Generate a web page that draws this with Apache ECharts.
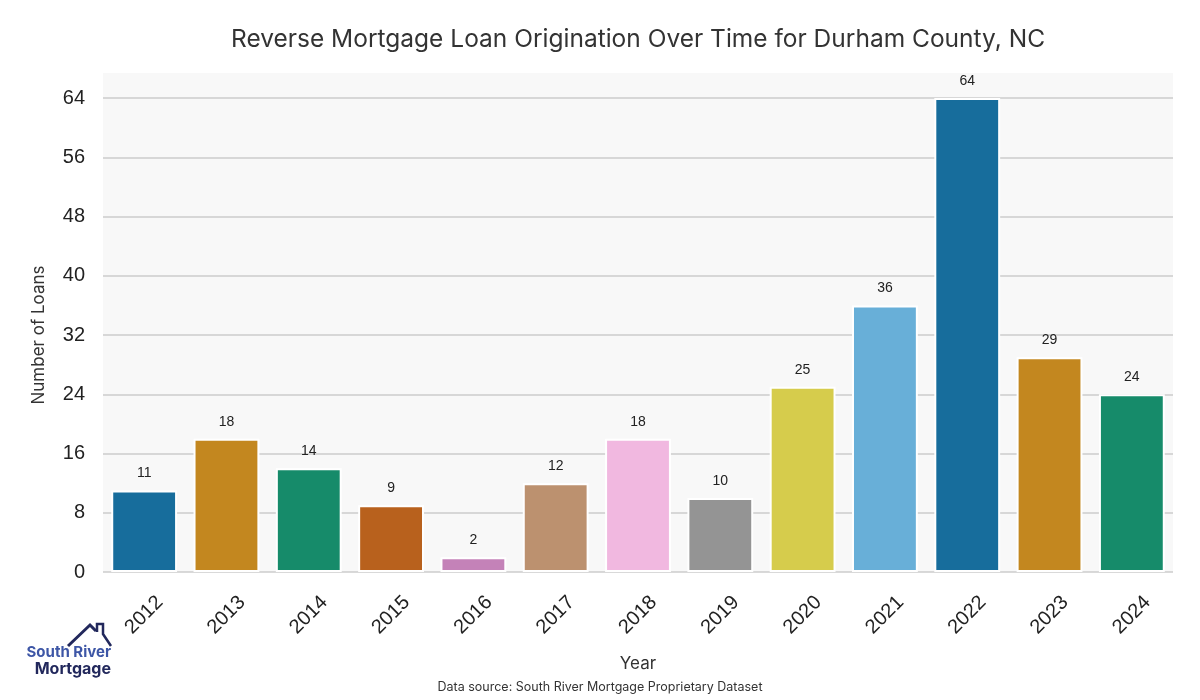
<!DOCTYPE html>
<html>
<head>
<meta charset="utf-8">
<script src="https://cdn.jsdelivr.net/npm/echarts@6/dist/echarts.min.js"></script>
<style>html,body{margin:0;padding:0;background:#fff}#c{width:1200px;height:700px}</style>
</head>
<body>
<div id="c"></div>
<script>
const years = ['2012','2013','2014','2015','2016','2017','2018','2019','2020','2021','2022','2023','2024'];
const loans = [11, 18, 14, 9, 2, 12, 18, 10, 25, 36, 64, 29, 24];
const barColors = ['#176d9c','#c3871f','#168b6a','#b8611d','#c482b8','#bc916f','#f1b8e0','#949494','#d6cc4c','#68afd8','#176d9c','#c3871f','#168b6a'];
const yMax = 64;
const yStep = 8;

const chart = echarts.init(document.getElementById('c'));
chart.setOption({
  backgroundColor: '#ffffff',
  animation: false,
  title: {
    text: 'Reverse Mortgage Loan Origination Over Time for Durham County, NC',
    left: 633, top: 22, textAlign: 'center',
    textStyle: { fontFamily: 'Inter, Lato, sans-serif', fontSize: 24.5, fontWeight: 'normal', color: '#333333' }
  },
  grid: [
    { left: 103, right: 27, top: 73, bottom: 128, show: true, backgroundColor: '#f8f8f8', borderWidth: 0 },
    { left: 103, right: 27, top: 98, bottom: 128 }
  ],
  xAxis: [
    { gridIndex: 0, type: 'category', data: years, show: false },
    {
      gridIndex: 1, type: 'category', data: years,
      name: 'Year', nameLocation: 'middle', nameGap: 83,
      nameTextStyle: { fontFamily: 'Inter, Lato, sans-serif', fontSize: 17, color: '#333333' },
      axisLine: { show: false }, axisTick: { show: false },
      axisLabel: { rotate: 45, align: 'center', verticalAlign: 'middle', fontFamily: 'Liberation Sans, Arial, sans-serif', fontSize: 20, color: '#222222', margin: 43 }
    }
  ],
  yAxis: [
    { gridIndex: 0, type: 'value', show: false, splitLine: { show: false } },
    {
      gridIndex: 1, type: 'value', min: 0, max: yMax, interval: yStep,
      name: 'Number of Loans', nameLocation: 'middle', nameGap: 56,
      nameTextStyle: { fontFamily: 'Inter, Lato, sans-serif', fontSize: 17, color: '#333333' },
      axisLine: { show: false }, axisTick: { show: false },
      axisLabel: { fontFamily: 'Liberation Sans, Arial, sans-serif', fontSize: 20, color: '#222222', margin: 18 },
      splitLine: { lineStyle: { color: '#cccccc', width: 1.5 } }
    }
  ],
  series: [{
    type: 'bar', xAxisIndex: 1, yAxisIndex: 1,
    data: loans.map((v, i) => ({ value: v, itemStyle: { color: barColors[i] } })),
    barCategoryGap: '20%',
    itemStyle: { borderColor: '#ffffff', borderWidth: 2 },
    label: { show: true, position: 'top', distance: 10, fontFamily: 'Liberation Sans, Arial, sans-serif', fontSize: 14, color: '#222222' }
  }],
  graphic: [
    { type: 'text', left: 'center', top: 681, style: { text: 'Data source: South River Mortgage Proprietary Dataset', font: '12.5px Inter, Lato, sans-serif', fill: '#333333' } },
    { type: 'polyline', shape: { points: [[68,646],[90,625],[96,631]] }, style: { stroke: '#22285c', lineWidth: 3, fill: null } },
    { type: 'polyline', shape: { points: [[97,632],[97,624],[103,624],[103,634],[111,646]] }, style: { stroke: '#22285c', lineWidth: 2.5, fill: null } },
    { type: 'text', x: 111, y: 645, style: { text: 'South River', font: 'bold 15px Inter, Lato, sans-serif', fill: '#3d56a6', align: 'right' } },
    { type: 'text', x: 111, y: 661, style: { text: 'Mortgage', font: 'bold 16px Inter, Lato, sans-serif', fill: '#22285c', align: 'right' } }
  ]
});
</script>
</body>
</html>
